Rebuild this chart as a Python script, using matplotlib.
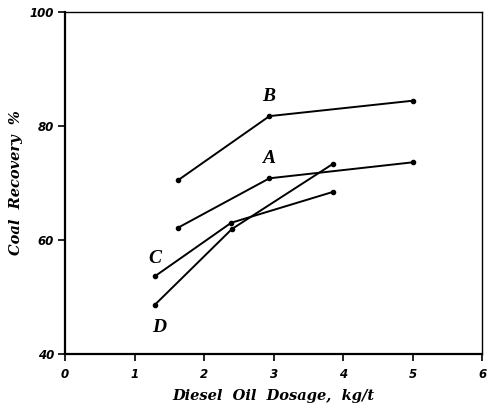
import matplotlib
matplotlib.use('Agg')
import matplotlib.pyplot as plt

# values (dosage kg/t, recovery %)
x_a = [1.62, 2.94, 5.0]
y_a = [62.1, 70.8, 73.6]
x_b = [1.63, 2.94, 5.0]
y_b = [70.5, 81.7, 84.4]
x_c = [1.29, 2.39, 3.85]
y_c = [53.6, 63.0, 68.4]
x_d = [1.29, 2.40, 3.85]
y_d = [48.6, 61.9, 73.3]

curve_names = ['A', 'B', 'C', 'D']
# where each curve letter sits (x, y in data units)
label_pos = [(2.93, 74.2), (2.93, 85.2), (1.29, 56.8), (1.35, 44.6)]

xticks = [0, 1, 2, 3, 4, 5, 6]
yticks = [40, 60, 80, 100]

fig = plt.figure(figsize=(4.89, 4.05), dpi=100)
ax = fig.add_axes([0.133, 0.126, 0.853, 0.845])

for xs, ys in [(x_a, y_a), (x_b, y_b), (x_c, y_c), (x_d, y_d)]:
    ax.plot(xs, ys, color='black', lw=1.4, marker='o', ms=3.0)

letter_font = dict(family='Liberation Serif', weight='bold', style='italic', size=14)
for name, (lx, ly) in zip(curve_names, label_pos):
    ax.text(lx, ly, name, ha='center', va='center', **letter_font)

ax.set_xlim(0, 6)
ax.set_ylim(40, 100)
ax.set_xticks(xticks)
ax.set_yticks(yticks)
tick_font = dict(family='DejaVu Sans', weight='bold', style='italic', size=8.5)
ax.set_xticklabels([str(t) for t in xticks], **tick_font)
ax.set_yticklabels([str(t) for t in yticks], **tick_font)
ax.tick_params(axis='x', direction='out', length=5, width=1.2, pad=5)
ax.tick_params(axis='y', direction='out', length=5, width=1.2, pad=3)

ax.spines['left'].set_linewidth(1.6)
ax.spines['bottom'].set_linewidth(1.6)
ax.spines['top'].set_linewidth(1.0)
ax.spines['right'].set_linewidth(1.0)

label_font = dict(family='DejaVu Serif', weight='bold', style='italic', size=10.5)
ax.set_xlabel('Diesel  Oil  Dosage,  kg/t', labelpad=6, **label_font)
ax.set_ylabel('Coal  Recovery  %', labelpad=5, **label_font)

fig.savefig('out.png', dpi=100)
